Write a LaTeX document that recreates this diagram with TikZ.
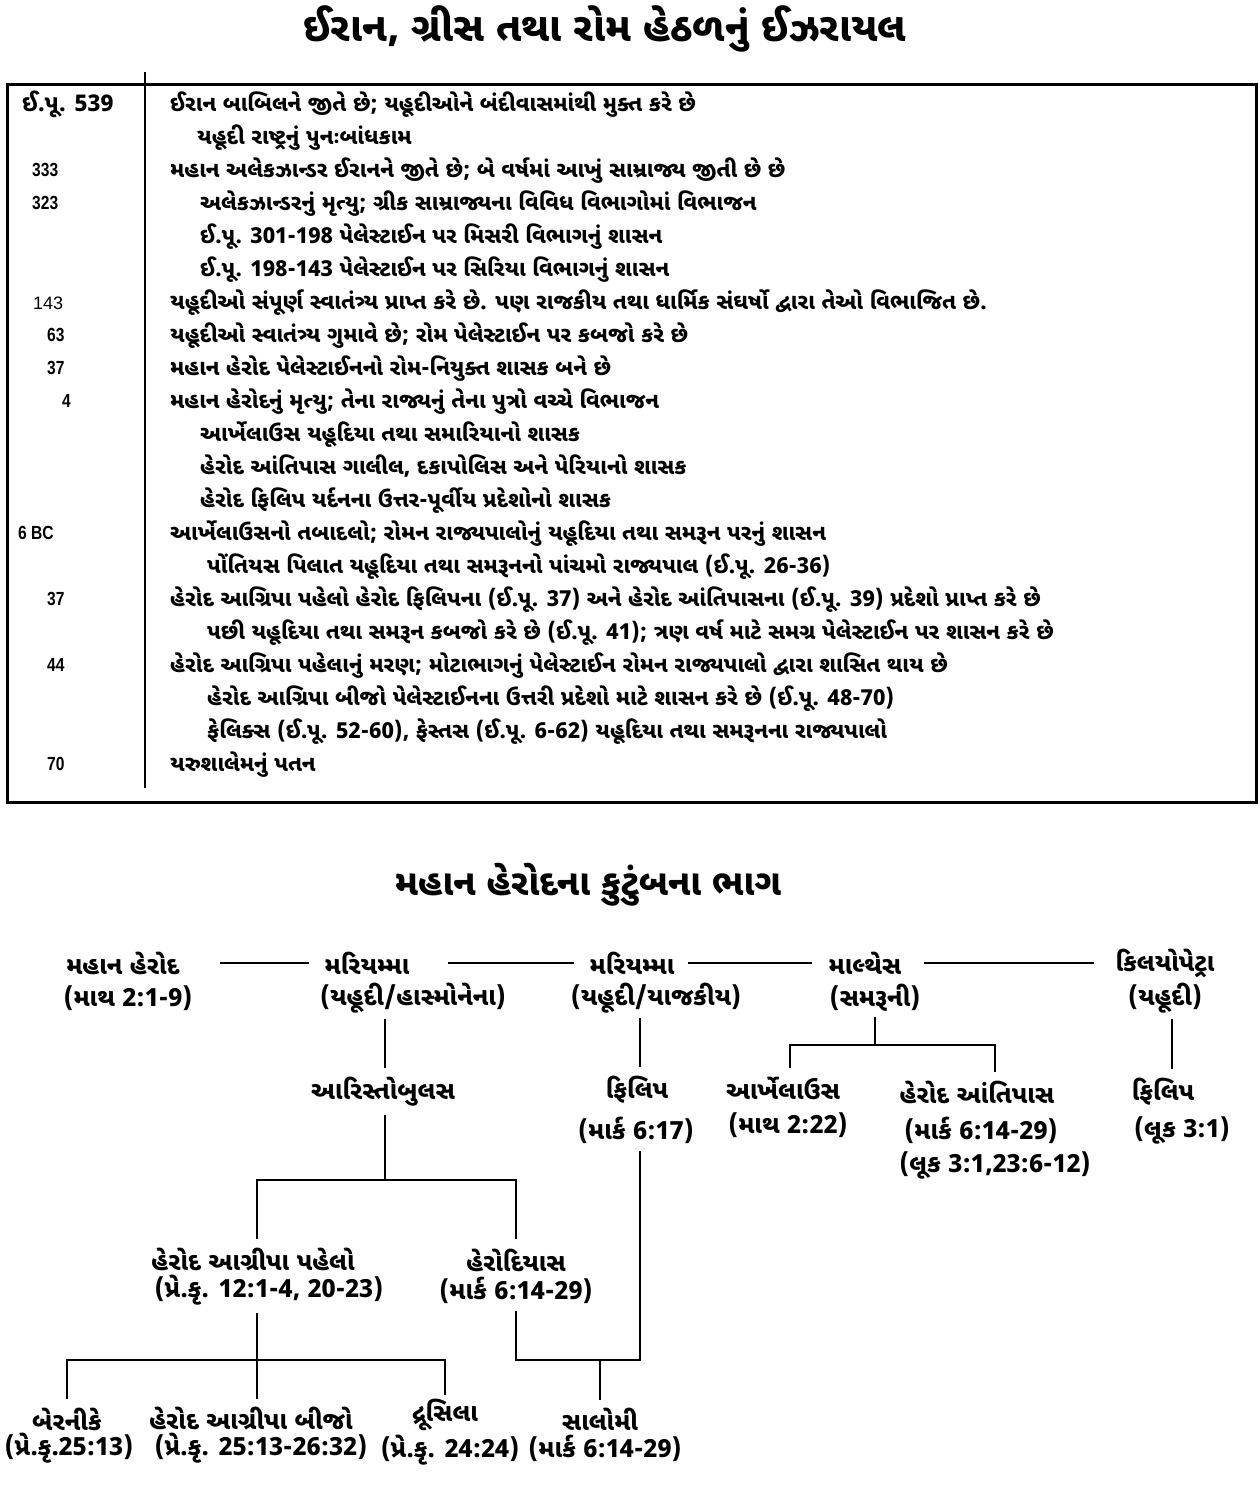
\documentclass[tikz,border=0pt]{standalone}
\usepackage{fontspec}
\newfontfamily\guj[Script=Gujarati]{Noto Sans Gujarati UI}
\newfontfamily\numfont[FakeStretch=0.82]{Liberation Sans}
\newfontfamily\numwide{Liberation Sans}
\usetikzlibrary{positioning}

\begin{document}
\begin{tikzpicture}[x=1pt, y=-1pt,
        heading/.style={font=\guj\bfseries\fontsize{40}{46}\selectfont, inner sep=0pt},
        subheading/.style={font=\guj\bfseries\fontsize{36}{42}\selectfont, inner sep=0pt},
        entry/.style={font=\guj\bfseries\fontsize{22}{26}\selectfont, anchor=base west, inner sep=0pt},
        year/.style={font=\numfont\bfseries\fontsize{19}{22}\selectfont, anchor=base west, inner sep=0pt},
        who/.style={font=\guj\bfseries\fontsize{25}{30}\selectfont, inner sep=0pt},
        src/.style={font=\guj\bfseries\fontsize{25}{36}\selectfont, align=center, inner sep=0pt},
        frame/.style={line width=3pt},
        link/.style={line width=2.6pt}
    ]
    \useasboundingbox (0,0) rectangle (1260,1512);

    % timeline table
    \node[heading] (title) at (605,29) {ઈરાન, ગ્રીસ તથા રોમ હેઠળનું ઈઝરાયલ};
    \draw[frame] (7,84) rectangle (1256,802);
    \draw[line width=2.4pt] (145,72) -- (145,788);

    \node[entry, font=\guj\bfseries\fontsize{23}{26}\selectfont] (d1) at (22,111) {ઈ.પૂ. 539};
    \node[year] (d3) at (32,176) {333};
    \node[year] (d4) at (32,209) {323};
    \node[year, font=\numwide\fontsize{18}{22}\selectfont] (d7) at (33,309) {143};
    \node[year] (d8) at (47,341) {63};
    \node[year] (d9) at (47,374) {37};
    \node[year] (d10) at (62,407) {4};
    \node[year] (d14) at (18,539) {6 BC};
    \node[year] (d16) at (47,605) {37};
    \node[year] (d18) at (47,671) {44};
    \node[year] (d21) at (47,770) {70};

    \node[entry] (r1) at (170,111) {ઈરાન બાબિલને જીતે છે; યહૂદીઓને બંદીવાસમાંથી મુક્ત કરે છે};
    \node[entry] (r2) at (197,144) {યહૂદી રાષ્ટ્રનું પુનઃબાંધકામ};
    \node[entry] (r3) at (170,177) {મહાન અલેકઝાન્ડર ઈરાનને જીતે છે; બે વર્ષમાં આખું સામ્રાજ્ય જીતી છે છે};
    \node[entry] (r4) at (200,210) {અલેકઝાન્ડરનું મૃત્યુ; ગ્રીક સામ્રાજ્યના વિવિધ વિભાગોમાં વિભાજન};
    \node[entry] (r5) at (200,243) {ઈ.પૂ. 301-198 પેલેસ્ટાઈન પર મિસરી વિભાગનું શાસન};
    \node[entry] (r6) at (200,276) {ઈ.પૂ. 198-143 પેલેસ્ટાઈન પર સિરિયા વિભાગનું શાસન};
    \node[entry] (r7) at (170,309) {યહૂદીઓ સંપૂર્ણ સ્વાતંત્ર્ય પ્રાપ્ત કરે છે. પણ રાજકીય તથા ધાર્મિક સંઘર્ષો દ્વારા તેઓ વિભાજિત છે.};
    \node[entry] (r8) at (170,342) {યહૂદીઓ સ્વાતંત્ર્ય ગુમાવે છે; રોમ પેલેસ્ટાઈન પર કબજો કરે છે};
    \node[entry] (r9) at (170,375) {મહાન હેરોદ પેલેસ્ટાઈનનો રોમ-નિયુક્ત શાસક બને છે};
    \node[entry] (r10) at (170,408) {મહાન હેરોદનું મૃત્યુ; તેના રાજ્યનું તેના પુત્રો વચ્ચે વિભાજન};
    \node[entry] (r11) at (200,441) {આર્ખેલાઉસ યહૂદિયા તથા સમારિયાનો શાસક};
    \node[entry] (r12) at (200,474) {હેરોદ આંતિપાસ ગાલીલ, દકાપોલિસ અને પેરિયાનો શાસક};
    \node[entry] (r13) at (200,507) {હેરોદ ફિલિપ યર્દનના ઉત્તર-પૂર્વીય પ્રદેશોનો શાસક};
    \node[entry] (r14) at (170,540) {આર્ખેલાઉસનો તબાદલો; રોમન રાજ્યપાલોનું યહૂદિયા તથા સમરૂન પરનું શાસન};
    \node[entry] (r15) at (207,573) {પોંતિયસ પિલાત યહૂદિયા તથા સમરૂનનો પાંચમો રાજ્યપાલ (ઈ.પૂ. 26-36)};
    \node[entry] (r16) at (170,606) {હેરોદ આગ્રિપા પહેલો હેરોદ ફિલિપના (ઈ.પૂ. 37) અને હેરોદ આંતિપાસના (ઈ.પૂ. 39) પ્રદેશો પ્રાપ્ત કરે છે};
    \node[entry] (r17) at (207,639) {પછી યહૂદિયા તથા સમરૂન કબજો કરે છે (ઈ.પૂ. 41); ત્રણ વર્ષ માટે સમગ્ર પેલેસ્ટાઈન પર શાસન કરે છે};
    \node[entry] (r18) at (170,672) {હેરોદ આગ્રિપા પહેલાનું મરણ; મોટાભાગનું પેલેસ્ટાઈન રોમન રાજ્યપાલો દ્વારા શાસિત થાય છે};
    \node[entry] (r19) at (207,705) {હેરોદ આગ્રિપા બીજો પેલેસ્ટાઈનના ઉત્તરી પ્રદેશો માટે શાસન કરે છે (ઈ.પૂ. 48-70)};
    \node[entry] (r20) at (207,738) {ફેલિક્સ (ઈ.પૂ. 52-60), ફેસ્તસ (ઈ.પૂ. 6-62) યહૂદિયા તથા સમરૂનના રાજ્યપાલો};
    \node[entry] (r21) at (170,771) {યરુશાલેમનું પતન};

    % family tree
    \node[subheading] (famtitle) at (588,885) {મહાન હેરોદના કુટુંબના ભાગ};

    \node[who] (herod) at (123,963) {મહાન હેરોદ};
    \node[src] (herodS) at (128,998) {(માથ 2:1-9)};
    \node[who] (maryA) at (367,963) {મરિયમ્મા};
    \node[src] (maryAS) at (413,998) {(યહૂદી/હાસ્મોનેના)};
    \node[who] (maryB) at (632,963) {મરિયમ્મા};
    \node[src] (maryBS) at (656,998) {(યહૂદી/યાજકીય)};
    \node[who] (malth) at (865,963) {માલ્થેસ};
    \node[src] (malthS) at (875,998) {(સમરૂની)};
    \node[who] (cleo) at (1165,963) {કિલયોપેટ્રા};
    \node[src] (cleoS) at (1165,998) {(યહૂદી)};

    \node[who] (aristo) at (383,1092) {આરિસ્તોબુલસ};
    \node[who] (philA) at (637,1090) {ફિલિપ};
    \node[src] (philAS) at (636,1130) {(માર્ક 6:17)};
    \node[who] (archel) at (783,1088) {આર્ખેલાઉસ};
    \node[src] (archelS) at (788,1125) {(માથ 2:22)};
    \node[who] (antipas) at (977,1092) {હેરોદ આંતિપાસ};
    \node[src] (antipasS) at (981,1130) {(માર્ક 6:14-29)};
    \node[src] (antipasT) at (995,1165) {(લૂક 3:1,23:6-12)};
    \node[who] (philB) at (1163,1092) {ફિલિપ};
    \node[src] (philBS) at (1182,1130) {(લૂક 3:1)};

    \node[who] (agripA) at (253,1260) {હેરોદ આગ્રીપા પહેલો};
    \node[src] (agripAS) at (269,1290) {(પ્રે.કૃ. 12:1-4, 20-23)};
    \node[who] (herodias) at (516,1260) {હેરોદિયાસ};
    \node[src] (herodiasS) at (516,1290) {(માર્ક 6:14-29)};

    \node[who] (bernice) at (67,1419) {બેરનીકે};
    \node[src] (berniceS) at (69,1448) {(પ્રે.કૃ.25:13)};
    \node[who] (agripB) at (251,1419) {હેરોદ આગ્રીપા બીજો};
    \node[src] (agripBS) at (261,1448) {(પ્રે.કૃ. 25:13-26:32)};
    \node[who] (drus) at (445,1415) {દ્રૂસિલા};
    \node[src] (drusS) at (450,1450) {(પ્રે.કૃ. 24:24)};
    \node[who] (salome) at (600,1419) {સાલોમી};
    \node[src] (salomeS) at (605,1448) {(માર્ક 6:14-29)};

    % marriages
    \draw[link, shorten <=40pt, shorten >=15pt] (herod.east) -- (maryA.west);
    \draw[link, shorten <=38pt, shorten >=15pt] (maryA.east) -- (maryB.west);
    \draw[link, shorten <=13pt, shorten >=16pt] (maryB.east) -- (malth.west);
    \draw[link, shorten <=22pt, shorten >=21pt] (malth.east) -- (cleo.west);

    % descent
    \coordinate (jAri) at (385,1180);
    \coordinate (jMal) at (875,1045);
    \coordinate (jAgr) at (257,1360);
    \coordinate (jSal) at (600,1360);

    \draw[link, shorten <=6pt, shorten >=9pt] (maryAS.south -| jAri) -- (aristo.north -| jAri);
    \draw[link, shorten <=8pt] (aristo.south -| jAri) -- (jAri);
    \draw[link, shorten <=9pt, shorten >=9pt] (agripA.north -| jAgr) |- (jAri) -| (herodias.north);

    \draw[link, shorten <=5pt, shorten >=9pt] ([xshift=-16pt]maryBS.south) -- ([xshift=3pt]philA.north);
    \draw[link, shorten <=8pt, shorten >=8pt] (herodiasS.south) |- (jSal) -| ([xshift=4pt]philAS.south);
    \draw[link, shorten >=8pt] (jSal) -- (salome.north);

    \draw[link, shorten <=5pt] (malthS.south) -- (jMal);
    \draw[link, shorten >=8pt] (jMal) -| ([xshift=7pt]archel.north);
    \draw[link, shorten >=8pt] (jMal) -| ([xshift=18pt]antipas.north);

    \draw[link, shorten <=6pt, shorten >=9pt] ([xshift=7pt]cleoS.south) -- ([xshift=7pt]cleoS.south |- philB.north);

    \draw[link, shorten <=8pt] (agripAS.south -| jAgr) -- (jAgr);
    \draw[link, shorten >=8pt] (jAgr) -| (bernice.north);
    \draw[link, shorten >=8pt] (jAgr) -- (agripB.north -| jAgr);
    \draw[link, shorten >=4pt] (jAgr) -| (drus.north);

\end{tikzpicture}
\end{document}
